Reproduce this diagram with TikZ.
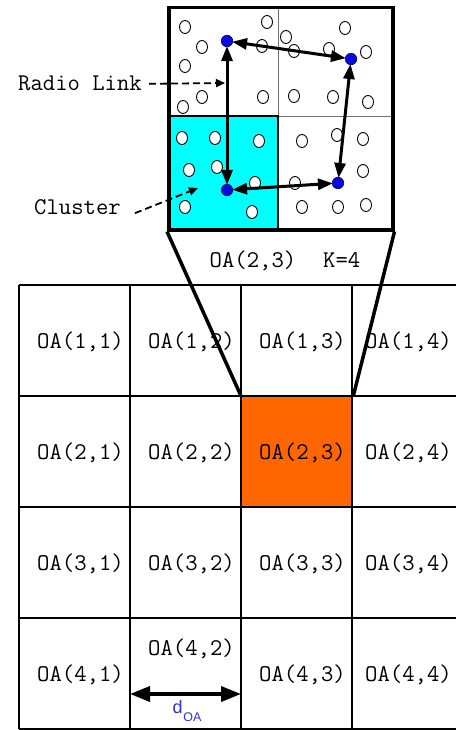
\documentclass[tikz,border=0pt]{standalone}
\usepackage{fontspec}
\newfontfamily\labelsans{Liberation Sans}
\usetikzlibrary{arrows.meta}
\definecolor{clustercyan}{HTML}{00FFFF}
\definecolor{oaorange}{HTML}{FF6600}
\definecolor{headblue}{HTML}{0A0ADC}
\definecolor{dimblue}{HTML}{3030D0}
\definecolor{thingray}{HTML}{707070}

\tikzset{
  gridline/.style={line width=1.3pt, black},
  heavy/.style={line width=3.5pt, black},
  oalabel/.style={anchor=base, inner sep=0pt, font=\ttfamily\fontsize{24}{27}\selectfont},
  sidelabel/.style={anchor=base, inner sep=0pt, font=\ttfamily\fontsize{24}{27}\selectfont},
  sensor/.style={draw=black, line width=0.9pt, fill=white},
  head/.style={circle, fill=headblue, draw=blue!45!black, line width=0.6pt,
               minimum size=11.5pt, inner sep=0pt},
  link/.style={{Triangle[length=15pt,width=11pt]}-{Triangle[length=15pt,width=11pt]},
               line width=3pt, black, shorten <=-1pt, shorten >=-1pt},
  pointer/.style={-{Triangle[length=9pt,width=8pt]}, line width=1.8pt,
                  dash pattern=on 7pt off 4pt},
  span/.style={{Triangle[length=20pt,width=15pt]}-{Triangle[length=20pt,width=15pt]},
               line width=3.5pt, black}
}

\begin{document}
\begin{tikzpicture}[x=1pt,y=-1pt]
\useasboundingbox (0,0) rectangle (456,730);

% ---- 4x4 grid of observation areas ----
\node[fill=oaorange, draw=black, line width=1.3pt, minimum width=111pt,
      minimum height=111pt, anchor=north west, inner sep=0pt] (oa23) at (241,396) {};
\foreach \y in {285,396,507,618,729}
  \draw[gridline] (19,\y) -- (456,\y);
\foreach \x in {19,130,241,352}
  \draw[gridline] (\x,285) -- (\x,729);

\foreach \r/\yc in {1/340.5,2/451.5,3/562.5}
  \foreach \c/\xc in {1/80.5,2/191.5,3/302.5,4/408.5}
    \node[oalabel] (lab\r\c) at (\xc,\yc+7.5) {OA(\r,\c)};
\node[oalabel] (lab41) at (80.5,681) {OA(4,1)};
\node[oalabel] (lab42) at (191.5,655) {OA(4,2)};
\node[oalabel] (lab43) at (302.5,681) {OA(4,3)};
\node[oalabel] (lab44) at (408.5,681) {OA(4,4)};

% distance between neighbouring areas
\coordinate (spanl) at (130,694);
\coordinate (spanr) at (241,694);
\draw[span] (spanl) -- (spanr);
\node[anchor=base, inner sep=0pt, text=dimblue] (dlab) at (187,713)
  {\labelsans\fontsize{18}{20}\selectfont d\kern0.8pt\raisebox{-8.5pt}{\fontsize{12.5}{13}\selectfont OA}};

% ---- enlarged view of OA(2,3) ----
\fill[clustercyan] (167,116) rectangle (278,228);
\draw[thingray, line width=0.9pt] (278,6) -- (278,116) -- (391,116);
\draw[black, line width=2pt] (167,116) -- (278,116) -- (278,228);

% sensor nodes
\foreach \sx/\sy in {185/27,267/22,202/47,262/46,185/66,202/97,263/97,183/107,
                     345/28,286/37,294/51,329/49,366/52,294/96,333/97,368/102,
                     182/138,215/138,259/141,189/170,217/167,255/183,185/207,252/212,
                     302/141,337/135,363/139,363/171,295/183,302/207,338/207,366/205}
  \draw[sensor] (\sx,\sy) ellipse (5.5pt and 6.5pt);

\node[draw=black, line width=3.5pt, minimum width=224pt, minimum height=222pt,
      anchor=north west, inner sep=0pt] (zoom) at (167,6) {};

\node[oalabel] (zlab) at (285,267) {OA(2,3)\hspace{27pt}K=4};

% projection of the enlarged view onto its grid cell
\draw[heavy] (zoom.south west) -- (oa23.north west);
\draw[heavy] (zoom.south east) -- (oa23.north east);

% cluster heads and radio links
\node[head] (h1) at (227,41) {};
\node[head] (h2) at (351,59) {};
\node[head] (h3) at (227,190) {};
\node[head] (h4) at (338,183) {};
\draw[link] (h1) -- (h2);
\draw[link] (h1) -- (h3);
\draw[link] (h3) -- (h4);
\draw[link] (h2) -- (h4);

% callouts
\node[sidelabel] (rl) at (80,91) {Radio Link};
\coordinate (rltip) at (225,83);
\draw[pointer] ([xshift=7pt]rl.east) -- (rltip);
\node[sidelabel] (cl) at (77.5,214) {Cluster};
\coordinate (cltip) at (198,188);
\draw[pointer] ([shift={(14pt,-6.5pt)}]cl.east) -- (cltip);
\end{tikzpicture}
\end{document}
